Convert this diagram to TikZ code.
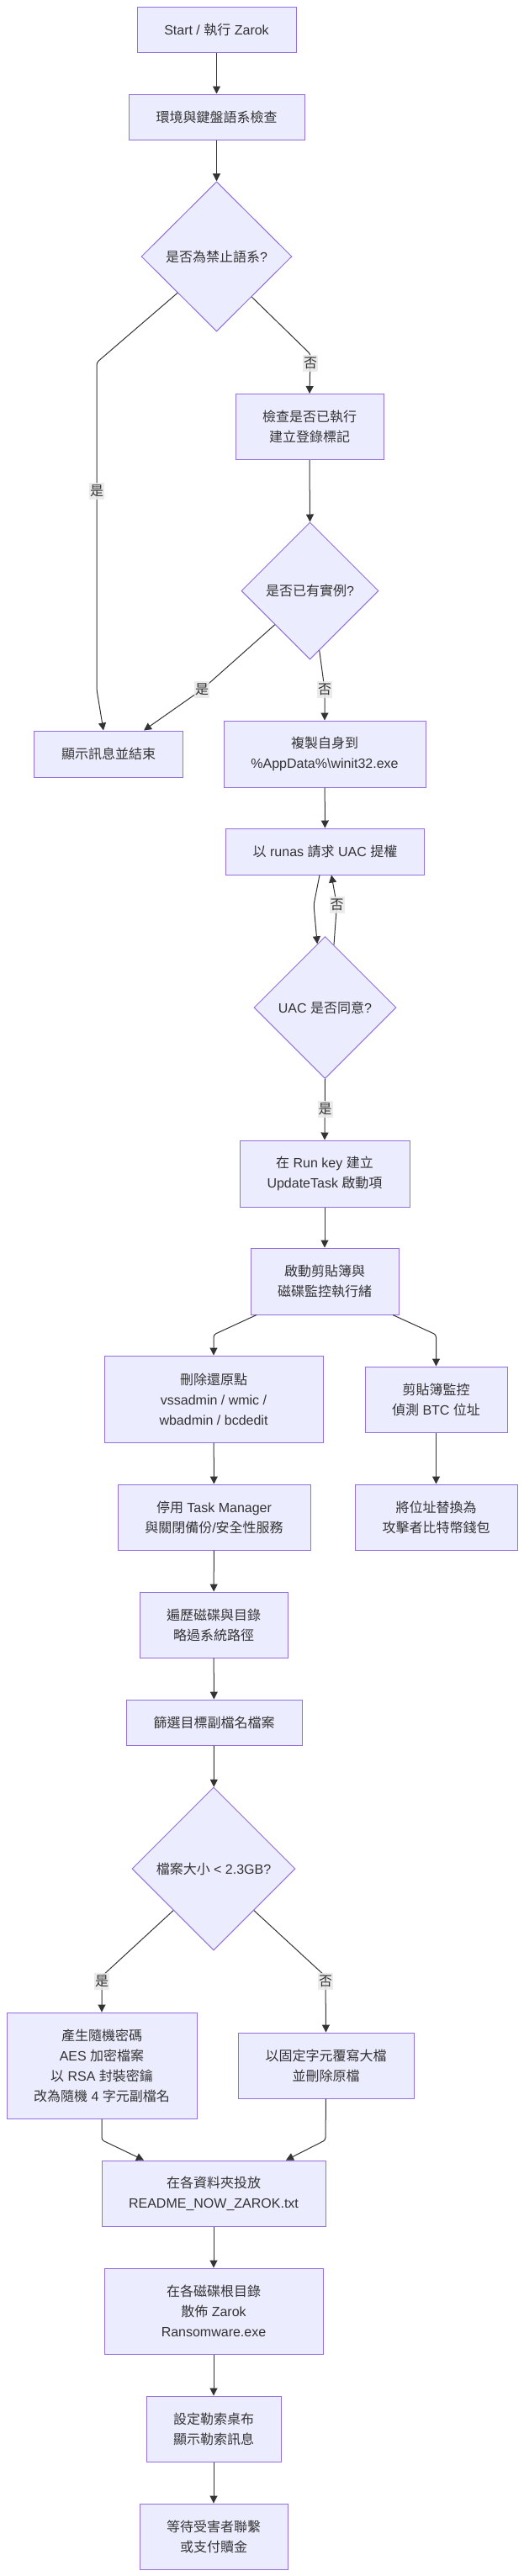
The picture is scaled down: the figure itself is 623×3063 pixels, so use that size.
\documentclass[tikz,border=0pt]{standalone}
\usepackage{fontspec}
\setmainfont{Liberation Sans}
\newfontfamily\cjkfont{Noto Sans CJK TC}
\newcommand\zh[1]{{\cjkfont #1}}
\usetikzlibrary{shapes.geometric,arrows.meta}
\definecolor{nodefill}{HTML}{ECECFF}
\definecolor{nodeline}{HTML}{9370DB}
\definecolor{edgecol}{HTML}{333333}
\definecolor{lblfill}{HTML}{E8E8E8}
\definecolor{txtcol}{HTML}{333333}
\tikzset{
  box/.style={rectangle,draw=nodeline,fill=nodefill,line width=1pt,inner sep=0pt,
    align=center,text=txtcol,font=\fontsize{16}{24}\selectfont},
  dia/.style={diamond,draw=nodeline,fill=nodefill,line width=1pt,inner sep=0pt,
    align=center,text=txtcol,font=\fontsize{16}{24}\selectfont},
  edge/.style={draw=edgecol,line width=1pt,rounded corners=3pt,
    -{Triangle[length=9pt,width=9pt]}},
  lbl/.style={fill=lblfill,fill opacity=0.85,text opacity=1,text=txtcol,
    inner xsep=1pt,inner ysep=3pt,font=\fontsize{16}{20}\selectfont\cjkfont},
}
\begin{document}
\begin{tikzpicture}[x=1pt,y=-1pt]
\useasboundingbox[fill=white] (0,0) rectangle (623,3063);

% nodes
\node[box,minimum width=189pt,minimum height=54pt] (start) at (257.5,35) {Start / \zh{執行} Zarok};
\node[box,minimum width=209pt,minimum height=54pt] (env) at (257.5,139) {\zh{環境與鍵盤語系檢查}};
\node[dia,minimum width=179pt,minimum height=178pt] (d1) at (257.5,305) {\zh{是否為禁止語系}?};
\node[box,minimum width=176pt,minimum height=78pt] (chk) at (368,507.5) {\zh{檢查是否已執行}\\\zh{建立登錄標記}};
\node[dia,minimum width=163pt,minimum height=163pt] (d2) at (368.5,702.5) {\zh{是否已有實例}?};
\node[box,minimum width=177pt,minimum height=55pt] (endn) at (129,896.5) {\zh{顯示訊息並結束}};
\node[box,minimum width=240pt,minimum height=79pt] (copy) at (386,896.5) {\zh{複製自身到}\\\%AppData\%\textbackslash winit32.exe};
\node[box,minimum width=236pt,minimum height=55pt] (uac) at (386.5,1012.5) {\zh{以} runas \zh{請求} UAC \zh{提權}};
\node[dia,minimum width=169pt,minimum height=169pt] (d3) at (386.5,1198) {UAC \zh{是否同意}?};
\node[box,minimum width=202pt,minimum height=79pt] (run) at (386,1395.5) {\zh{在} Run key \zh{建立}\\UpdateTask \zh{啟動項}};
\node[box,minimum width=176pt,minimum height=79pt] (thr) at (386,1523.5) {\zh{啟動剪貼簿與}\\\zh{磁碟監控執行緒}};
\node[box,minimum width=260pt,minimum height=103pt] (del) at (254,1663.5) {\zh{刪除還原點}\\vssadmin / wmic /\\wbadmin / bcdedit};
\node[box,minimum width=169pt,minimum height=78pt] (clip) at (518.5,1664) {\zh{剪貼簿監控}\\\zh{偵測} BTC \zh{位址}};
\node[box,minimum width=229pt,minimum height=78pt] (tm) at (254.5,1804) {\zh{停用} Task Manager\\\zh{與關閉備份}/\zh{安全性服務}};
\node[box,minimum width=193pt,minimum height=78pt] (rep) at (518.5,1804) {\zh{將位址替換為}\\\zh{攻擊者比特幣錢包}};
\node[box,minimum width=176pt,minimum height=78pt] (trav) at (254,1932) {\zh{遍歷磁碟與目錄}\\\zh{略過系統路徑}};
\node[box,minimum width=209pt,minimum height=54pt] (filt) at (254.5,2048) {\zh{篩選目標副檔名檔案}};
\node[dia,minimum width=194pt,minimum height=194pt] (d4) at (254,2222) {\zh{檔案大小} < 2.3GB?};
\node[box,minimum width=226pt,minimum height=126pt] (enc) at (121,2456) {\zh{產生隨機密碼}\\AES \zh{加密檔案}\\\zh{以} RSA \zh{封裝密鑰}\\\zh{改為隨機} 4 \zh{字元副檔名}};
\node[box,minimum width=209pt,minimum height=78pt] (ovw) at (387.5,2456) {\zh{以固定字元覆寫大檔}\\\zh{並刪除原檔}};
\node[box,minimum width=266pt,minimum height=78pt] (readme) at (254,2608) {\zh{在各資料夾投放}\\README\_NOW\_ZAROK.txt};
\node[box,minimum width=260pt,minimum height=102pt] (spread) at (254,2748) {\zh{在各磁碟根目錄}\\\zh{散佈} Zarok\\Ransomware.exe};
\node[box,minimum width=160pt,minimum height=78pt] (wall) at (254,2888) {\zh{設定勒索桌布}\\\zh{顯示勒索訊息}};
\node[box,minimum width=176pt,minimum height=78pt] (wait) at (254,3016) {\zh{等待受害者聯繫}\\\zh{或支付贖金}};

% waypoints
\coordinate (w1a) at (369,421);
\coordinate (w1b) at (115,431);
\coordinate (w1c) at (115,820);
\coordinate (w2a) at (240,820);
\coordinate (w2b) at (386,820);
\coordinate (w3a) at (373,1076);
\coordinate (w3b) at (400.5,1076);
\coordinate (w4a) at (254,1587);
\coordinate (w4b) at (518.5,1587);
\coordinate (w5a) at (121,2350);
\coordinate (w5b) at (387,2350);
\coordinate (w6a) at (121,2544.6);
\coordinate (w6b) at (387,2544.6);

% connectors
\draw[edge] (start) -- (env);
\draw[edge] (env) -- (d1);
\draw[edge] (d1.-49) -- (w1a) -- (chk.north);
\draw[edge] (d1.-137) -- (w1b) -- (w1c) -- ([xshift=-6pt]endn.north);
\draw[edge] (chk.south) -- (d2.north);
\draw[edge] (d2.-136) -- (w2a) -- ([xshift=42pt]endn.north);
\draw[edge] (d2.-81) -- (w2b) -- (copy.north);
\draw[edge] (copy) -- (uac);
\draw[edge] ([xshift=-6.5pt]uac.south) -- (w3a) -- (d3.97);
\draw[edge] (d3.82.5) -- (w3b) -- ([xshift=7.5pt]uac.south);
\draw[edge] (d3.south) -- (run.north);
\draw[edge] (run) -- (thr);
\draw[edge] ([xshift=-81pt]thr.south) -- (w4a) -- (del.north);
\draw[edge] ([xshift=81pt]thr.south) -- (w4b) -- (clip.north);
\draw[edge] (del) -- (tm);
\draw[edge] (tm) -- (trav);
\draw[edge] (trav) -- (filt);
\draw[edge] (filt) -- (d4);
\draw[edge] (clip) -- (rep);
\draw[edge] (d4.-134) -- (w5a) -- (enc.north);
\draw[edge] (d4.-46) -- (w5b) -- (ovw.north);
\draw[edge] (enc.south) -- (w6a) -- ([xshift=-83pt]readme.north);
\draw[edge] (ovw.south) -- (w6b) -- ([xshift=86pt]readme.north);
\draw[edge] (readme) -- (spread);
\draw[edge] (spread) -- (wall);
\draw[edge] (wall) -- (wait);

% edge labels
\node[lbl] (l1) at (369,432) {否};
\node[lbl] (l2) at (115,584) {是};
\node[lbl] (l3) at (240,820) {是};
\node[lbl] (l4) at (386,820) {否};
\node[lbl] (l5) at (400.5,1076) {否};
\node[lbl] (l6) at (386.5,1319) {是};
\node[lbl] (l7) at (121,2356) {是};
\node[lbl] (l8) at (387,2356) {否};
\end{tikzpicture}
\end{document}
